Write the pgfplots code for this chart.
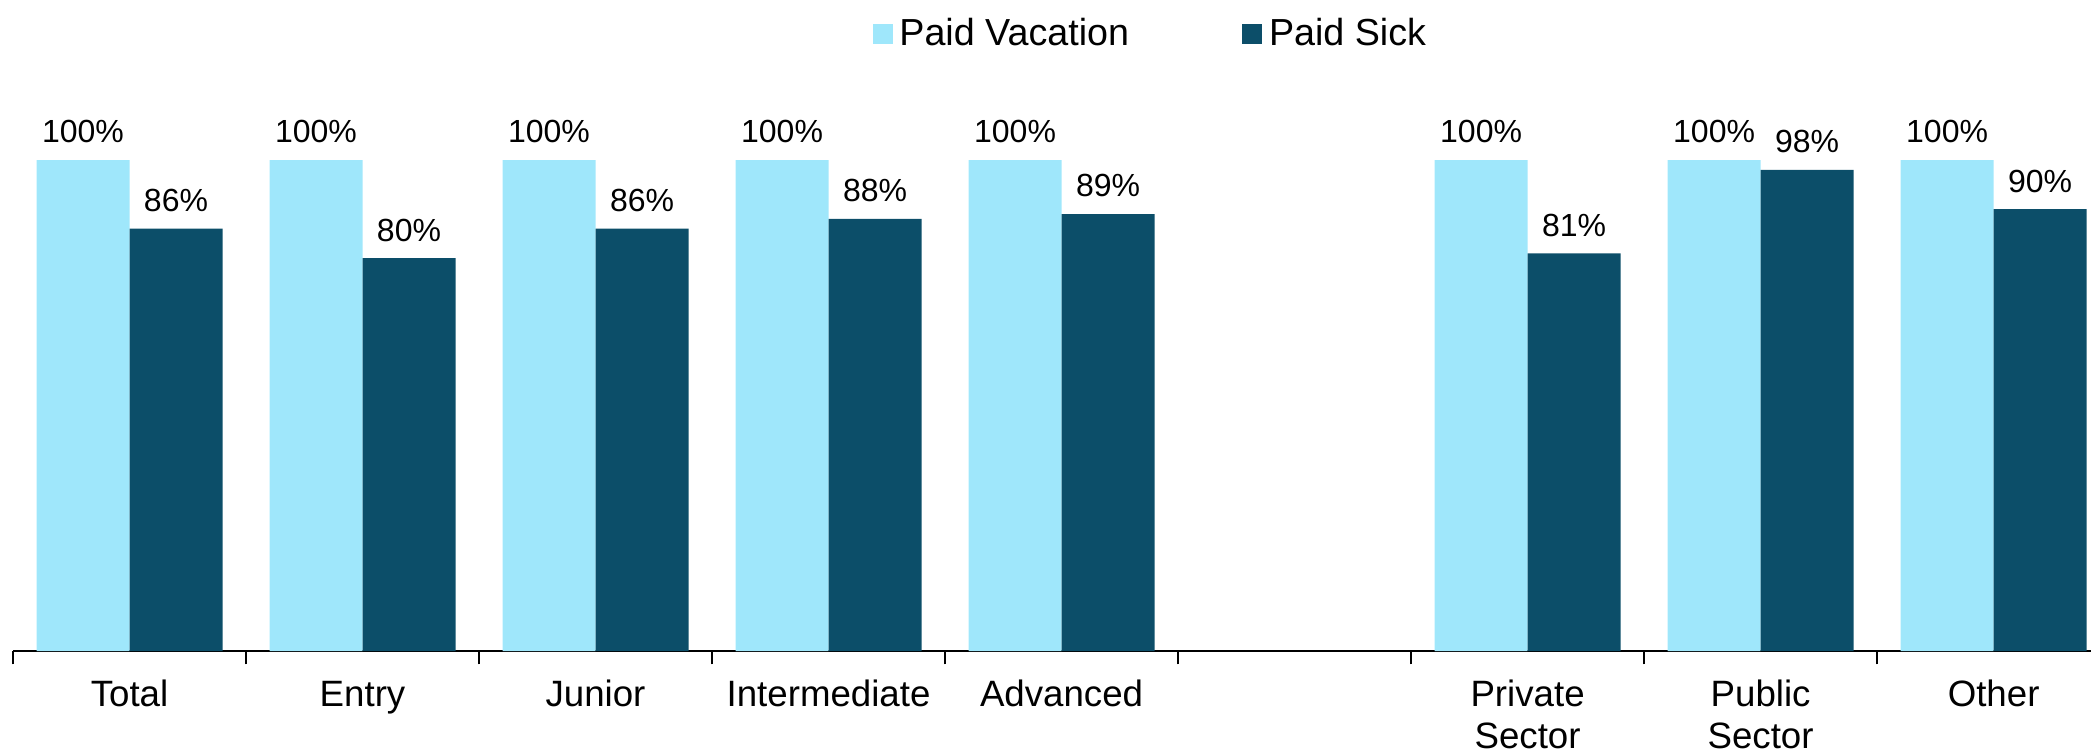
\documentclass[border=0pt]{standalone}
\usepackage{fontspec}
\setmainfont{Liberation Sans}
\usepackage{pgfplots}
\pgfplotsset{compat=1.18}
\definecolor{VacColor}{HTML}{9FE7FB}
\definecolor{SickColor}{HTML}{0C4E69}

\begin{document}
\begin{tikzpicture}
\begin{axis}[
    at={(0,0)}, anchor=south west,
    scale only axis,
    width=623.4pt, height=147.3pt,
    ybar=0pt, bar width=27.9pt,
    xmin=-0.5, xmax=8.418, ymin=0, ymax=100,
    axis x line*=bottom, axis y line=none,
    axis line style={-, black, line width=0.4pt},
    xtick={0,...,8},
    xticklabels={Total, Entry, Junior, Intermediate, Advanced, {}, {Private\\Sector}, {Public\\Sector}, Other},
    major tick length=0pt,
    minor xtick={-0.5,0.5,...,7.5},
    minor tick length=4pt,
    tick align=outside,
    tick style={black, line width=0.4pt},
    xticklabel style={font=\fontsize{11}{12.6}\selectfont, align=center, yshift=-4.2pt},
    typeset ticklabels with strut,
    /pgf/number format/assume math mode=true,
    nodes near coords={\pgfmathprintnumber{\pgfplotspointmeta}\%},
    nodes near coords style={font=\fontsize{9.6}{11}\selectfont, black, yshift=1.5pt},
    clip=false,
    legend columns=2,
    legend style={at={(axis description cs:0.4134,1.2566)}, anchor=west, draw=none, fill=none,
        inner sep=0pt, font=\fontsize{11.3}{13}\selectfont,
        /tikz/every even column/.append style={column sep=32pt}},
]
\addplot[fill=VacColor, draw=none,
    legend image code/.code={\fill[VacColor] (0pt,-3pt) rectangle (6pt,3pt);}]
    coordinates {(0,100) (1,100) (2,100) (3,100) (4,100) (6,100) (7,100) (8,100)};
\addplot[fill=SickColor, draw=none,
    legend image code/.code={\fill[SickColor] (0pt,-3pt) rectangle (6pt,3pt);}]
    coordinates {(0,86) (1,80) (2,86) (3,88) (4,89) (6,81) (7,98) (8,90)};
\legend{Paid Vacation, Paid Sick}
\end{axis}
\pgfresetboundingbox
\path (-3.9pt,-30.3pt) rectangle (623.4pt,195.3pt);
\end{tikzpicture}
\end{document}
